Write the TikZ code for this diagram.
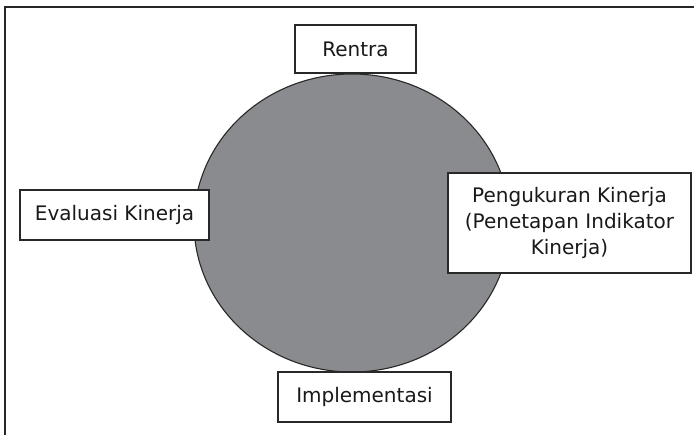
\documentclass[tikz,border=0pt]{standalone}
\usepackage{fontspec}
\setmainfont{DejaVu Sans}
\usetikzlibrary{shapes.geometric}
\definecolor{circfill}{RGB}{138,139,142}
\definecolor{edge}{RGB}{40,40,40}
\begin{document}
\begin{tikzpicture}[x=1pt,y=-1pt,
  box/.style={draw=edge,line width=1.4pt,fill=white,inner sep=0pt,font=\fontsize{20}{26}\selectfont,align=center,text=black!90}]
\useasboundingbox (0,0) rectangle (694,435);
\draw[line width=2.5pt,black!85] (694,7) -- (5,7) -- (5,435);
\node[draw=edge,line width=1.1pt,fill=circfill,ellipse,minimum width=316pt,minimum height=298pt,inner sep=0pt] (c) at (352,223) {};
\node[box,minimum width=121pt,minimum height=48pt] (rentra) at (355.5,49) {Rentra};
\node[box,minimum width=189pt,minimum height=50pt] (eval) at (114.5,215) {Evaluasi Kinerja};
\node[box,minimum width=243pt,minimum height=100pt] (ukur) at (569.5,223) {Pengukuran Kinerja\\(Penetapan Indikator\\Kinerja)};
\node[box,minimum width=173pt,minimum height=50pt] (impl) at (364.5,397) {Implementasi};
\end{tikzpicture}
\end{document}
